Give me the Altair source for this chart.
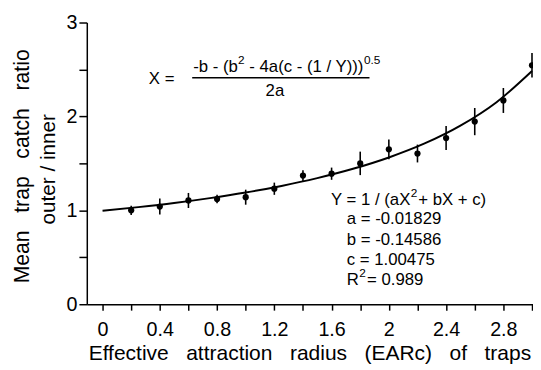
import altair as alt
import pandas as pd

FONT = "Liberation Sans"

# ---- data ----
radius = [0.2, 0.4, 0.6, 0.8, 1.0, 1.2, 1.4, 1.6, 1.8, 2.0, 2.2, 2.4, 2.6, 2.8, 3.0]
ratio = [1.00, 1.04, 1.105, 1.12, 1.14, 1.23, 1.37, 1.39, 1.50, 1.65, 1.605, 1.77, 1.945, 2.17, 2.545]
err = [0.05, 0.085, 0.08, 0.045, 0.08, 0.065, 0.058, 0.065, 0.125, 0.105, 0.095, 0.128, 0.145, 0.133, 0.131]

curve_x = [0.0, 0.25, 0.5, 0.75, 1.0, 1.25, 1.5, 1.75, 2.0, 2.25, 2.5, 2.75, 3.0]
curve_y = [0.995, 1.034, 1.078, 1.130, 1.190, 1.260, 1.343, 1.442, 1.563, 1.712, 1.902, 2.149, 2.484]

x_ticks = [0, 0.2, 0.4, 0.6, 0.8, 1.0, 1.2, 1.4, 1.6, 1.8, 2.0, 2.2, 2.4, 2.6, 2.8, 3.0]
y_ticks = [0, 0.5, 1, 1.5, 2, 2.5, 3]

pts = pd.DataFrame({"x": radius, "y": ratio, "e": err})
curve_df = pd.DataFrame({"x": curve_x, "y": curve_y})
one = pd.DataFrame({"k": [0]})

xscale = alt.Scale(domain=[-0.11, 3.007], nice=False, zero=False)
yscale = alt.Scale(domain=[0, 3], nice=False, zero=False)

xaxis = alt.Axis(values=x_ticks, tickSize=6, labelPadding=26, labelBaseline="alphabetic", format="~g",
                 labelExpr="abs(datum.value/0.4 - round(datum.value/0.4)) < 0.01 ? datum.label : ''",
                 title=None, labelFlush=False, labelOverlap=False)
yaxis = alt.Axis(values=y_ticks, tickSize=8, labelPadding=2, labelBaseline="middle", format="~g",
                 labelExpr="datum.value % 1 == 0 ? datum.label : ''", title=None, labelOverlap=False)

curve = alt.Chart(curve_df).mark_line(color="black", strokeWidth=2, interpolate="monotone").encode(
    x=alt.X("x:Q", scale=xscale, axis=xaxis),
    y=alt.Y("y:Q", scale=yscale, axis=yaxis),
)

bars = alt.Chart(pts).transform_calculate(
    lo="datum.y - datum.e", hi="datum.y + datum.e"
).mark_rule(color="black", strokeWidth=1.6).encode(
    x=alt.X("x:Q", scale=xscale, axis=xaxis),
    y=alt.Y("lo:Q", scale=yscale, axis=yaxis),
    y2="hi:Q",
)

dots = alt.Chart(pts).mark_circle(color="black", opacity=1, size=40).encode(
    x=alt.X("x:Q", scale=xscale, axis=xaxis),
    y=alt.Y("y:Q", scale=yscale, axis=yaxis),
)


def label(text, x, y, size=17, align="left", angle=0):
    kw = dict(text=text, font=FONT, fontSize=size, align=align, baseline="alphabetic", color="black")
    if angle:
        kw["angle"] = angle
    return alt.Chart(one).mark_text(**kw).encode(x=alt.value(x), y=alt.value(y))


NB3 = "\u00a0\u00a0\u00a0"
texts = [
    # formula
    label("X =", 63, 62),
    label("-b - (b", 108, 50.5),
    label("2", 153.5, 42.5, size=12),
    label("- 4a(c - (1 / Y)))", 165, 50.5),
    label("0.5", 281.3, 42.5, size=12),
    label("2a", 191, 75, align="center"),
    # fit block
    label("Y = 1 / (aX", 248, 185),
    label("2", 329, 177, size=12),
    label("+ bX + c)", 336.5, 185),
    label("a = -0.01829", 264, 204.5),
    label("b = -0.14586", 264, 225.5),
    label("c = 1.00475", 264, 246),
    label("R", 264, 266.5),
    label("2", 276.5, 258.5, size=12),
    label("= 0.989", 284.5, 266.5),
    # axis titles
    label(NB3.join(["Effective", "attraction", "radius", "(EARc)", "of", "traps"]), 226.5, 343, size=21.3, align="center"),
    label(NB3.join(["Mean", "trap", "catch", "ratio"]), -59, 146, size=21.5, align="center", angle=270),
    label("outer / inner", -32, 149, size=21, align="center", angle=270),
]

frac = alt.Chart(one).mark_rule(color="black", strokeWidth=1.5).encode(
    x=alt.value(107), x2=alt.value(287), y=alt.value(56)
)

chart = alt.layer(curve, bars, dots, frac, *texts).properties(
    width=453, height=286,
    autosize=alt.AutoSizeParams(type="none"),
    padding={"left": 80, "top": 12, "right": 0, "bottom": 62},
).configure_view(stroke=None).configure_axis(
    grid=False, domainColor="black", tickColor="black", labelColor="black",
    labelFont=FONT, labelFontSize=20, domainWidth=1.5, tickWidth=1.5,
)

chart.save("out.html", embed_options={"renderer": "svg", "actions": False})
